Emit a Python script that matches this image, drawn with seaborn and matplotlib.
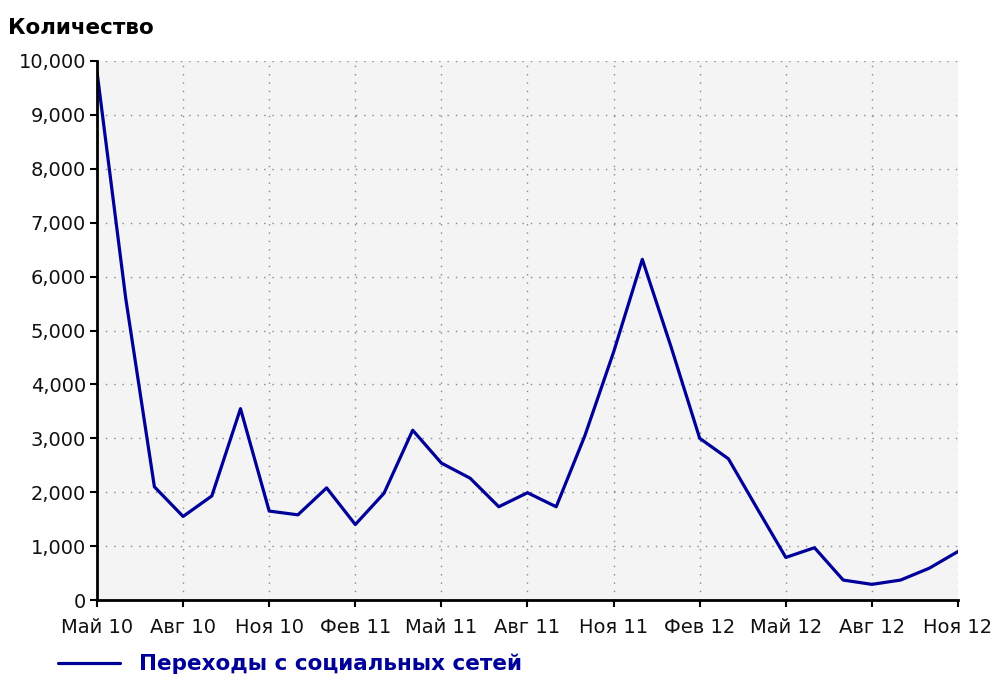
import matplotlib
matplotlib.use("Agg")
import matplotlib.pyplot as plt
from matplotlib.ticker import FuncFormatter
import seaborn as sns
import pandas as pd

months = [
    "Май 10", "Июн 10", "Июл 10", "Авг 10", "Сен 10", "Окт 10", "Ноя 10", "Дек 10",
    "Янв 11", "Фев 11", "Мар 11", "Апр 11", "Май 11", "Июн 11", "Июл 11", "Авг 11",
    "Сен 11", "Окт 11", "Ноя 11", "Дек 11", "Янв 12", "Фев 12", "Мар 12", "Апр 12",
    "Май 12", "Июн 12", "Июл 12", "Авг 12", "Сен 12", "Окт 12", "Ноя 12",
]
visits = [
    9800, 5600, 2100, 1550, 1930, 3550, 1650, 1580,
    2080, 1400, 1980, 3150, 2540, 2260, 1730, 1990,
    1730, 3050, 4600, 6320, 4700, 3000, 2620, 1700,
    790, 970, 370, 290, 370, 590, 900,
]
series_name = "Переходы с социальных сетей"
y_label = "Количество"

df = pd.DataFrame({"idx": range(len(months)), "month": months, "value": visits})

sns.set_style("white")
plt.rcParams["font.family"] = ["DejaVu Sans"]

fig = plt.figure(figsize=(9.95, 6.79), dpi=100)
ax = fig.add_axes([97 / 995, 79 / 679, 861 / 995, 539 / 679])
ax.set_facecolor("#f4f4f4")

sns.lineplot(data=df, x="idx", y="value", color="#000099", linewidth=2.3,
             ax=ax, label=series_name)

ax.set_xlim(0, len(months) - 1)
ax.set_ylim(0, 10000)
tick_pos = list(range(0, len(months), 3))
ax.set_xticks(tick_pos)
ax.set_xticklabels([months[i] for i in tick_pos])
ax.set_yticks(range(0, 10001, 1000))
ax.yaxis.set_major_formatter(FuncFormatter(lambda v, p: f"{v:,.0f}"))
ax.set_xlabel("")
ax.set_ylabel("")

ax.grid(True, color="#888888", linestyle=(0, (1, 5)), linewidth=1)
for side in ["top", "right"]:
    ax.spines[side].set_visible(False)
for side in ["left", "bottom"]:
    ax.spines[side].set_color("black")
    ax.spines[side].set_linewidth(2)
ax.tick_params(axis="both", direction="out", length=5, width=1.5, color="black",
               labelsize=14, labelcolor="#111111", left=True, bottom=True)
ax.tick_params(axis="x", pad=8)
ax.tick_params(axis="y", pad=3)

fig.text(8 / 995, 1 - 28 / 679, y_label, fontsize=15.5, fontweight="bold",
         va="center", ha="left", color="black")

leg = ax.legend(loc="center left", bbox_to_anchor=(58 / 995, 1 - 664 / 679),
                bbox_transform=fig.transFigure, frameon=False, borderpad=0,
                borderaxespad=0, handlelength=2.9, handletextpad=0.85,
                prop={"weight": "bold", "size": 15.5})
for t in leg.get_texts():
    t.set_color("#000099")

fig.savefig("out.png", dpi=100, facecolor="white")
